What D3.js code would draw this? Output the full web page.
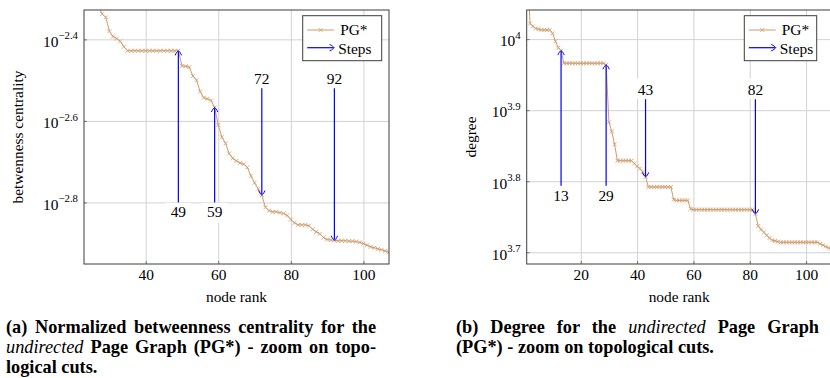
<!DOCTYPE html>
<html>
<head>
<meta charset="utf-8">
<script src="https://cdn.jsdelivr.net/npm/d3@7"></script>
<style>
body { margin: 0; background: #fff; }
#wrap { position: relative; width: 830px; height: 378px; overflow: hidden; }
#wrap svg { position: absolute; left: 0; top: 0; }
.cap { position: absolute; font-family: 'Liberation Serif', 'Times New Roman', Times, 'DejaVu Serif', serif; font-weight: bold; font-size: 18.3px; line-height: 20px; color: #000; }
.cap div { white-space: nowrap; }
.cap .j { text-align: justify; text-align-last: justify; }
.cap i { font-weight: normal; }
</style>
</head>
<body>
<div id="wrap">
  <div class="cap" style="left:6px; top:317px; width:370px;">
    <div class="j">(a) Normalized betweenness centrality for the</div>
    <div class="j"><i>undirected</i> Page Graph (PG*) - zoom on topo-</div>
    <div>logical cuts.</div>
  </div>
  <div class="cap" style="left:456px; top:317px; width:363px;">
    <div class="j">(b) Degree for the <i>undirected</i> Page Graph</div>
    <div>(PG*) - zoom on topological cuts.</div>
  </div>
</div>
<script>
// (a) betweenness, log10 exponent per node rank, first rank = 26
var btwFirstRank = 26;
var btwExp = [
	-2.29, -2.32, -2.338, -2.346, -2.38, -2.393, -2.398, -2.405, -2.418, -2.428,
	-2.428, -2.428, -2.428, -2.428, -2.428, -2.428, -2.428, -2.428, -2.428, -2.428,
	-2.428, -2.428, -2.428, -2.428, -2.465, -2.466, -2.468, -2.49, -2.50, -2.528,
	-2.543, -2.546, -2.55, -2.567, -2.61, -2.64, -2.655, -2.68, -2.692, -2.698,
	-2.703, -2.706, -2.714, -2.735, -2.752, -2.766, -2.782, -2.812, -2.82, -2.823,
	-2.823, -2.825, -2.827, -2.832, -2.842, -2.85, -2.855, -2.855, -2.855, -2.857,
	-2.866, -2.872, -2.877, -2.886, -2.891, -2.892, -2.893, -2.894, -2.894, -2.894,
	-2.895, -2.895, -2.896, -2.898, -2.901, -2.905, -2.909, -2.911, -2.914, -2.916,
	-2.919, -2.922
];
var btwSteps = [49, 59, 72, 92];
var btwStepFrom = [-2.8, -2.8, -2.52, -2.52];
var btwStepSide = ['below', 'below', 'above', 'above'];
var btwXTicks = [40, 60, 80, 100];
var btwYTicks = [-2.4, -2.6, -2.8];
var btwYTickLabels = ['\u22122.4', '\u22122.6', '\u22122.8'];

// (b) degree, log10 exponent per node rank, first rank = 1
var degFirstRank = 1;
var degExp = [
	4.10, 4.022, 4.018, 4.015, 4.014, 4.013, 4.013, 4.013, 4.013, 4.008,
	3.997, 3.988, 3.984, 3.966, 3.966, 3.966, 3.966, 3.966, 3.966, 3.966,
	3.966, 3.966, 3.966, 3.966, 3.966, 3.966, 3.966, 3.966, 3.964, 3.883,
	3.870, 3.852, 3.829, 3.829, 3.829, 3.829, 3.829, 3.829, 3.825, 3.821,
	3.818, 3.813, 3.806, 3.792, 3.792, 3.792, 3.792, 3.792, 3.792, 3.792,
	3.792, 3.792, 3.774, 3.773, 3.773, 3.773, 3.773, 3.773, 3.761, 3.760,
	3.760, 3.760, 3.760, 3.760, 3.760, 3.760, 3.760, 3.760, 3.760, 3.760,
	3.760, 3.760, 3.760, 3.760, 3.760, 3.760, 3.760, 3.760, 3.760, 3.760,
	3.760, 3.754, 3.737, 3.732, 3.728, 3.724, 3.720, 3.717, 3.716, 3.715,
	3.714, 3.714, 3.714, 3.714, 3.714, 3.714, 3.714, 3.714, 3.714, 3.714,
	3.714, 3.714, 3.714, 3.714, 3.712, 3.710, 3.708, 3.706, 3.705
];
var degSteps = [13, 29, 43, 82];
var degStepFrom = [3.7935, 3.7935, 3.9155, 3.9155];
var degStepSide = ['below', 'below', 'above', 'above'];
var degXTicks = [20, 40, 60, 80, 100];
var degYTicks = [4, 3.9, 3.8, 3.7];
var degYTickLabels = ['4', '3.9', '3.8', '3.7'];

var seriesName = 'PG*';
var stepsName = 'Steps';
var lineColor = '#cf9b69';
var stepColor = '#0000ff';
var font = "'Liberation Serif', 'Times New Roman', Times, 'DejaVu Serif', serif";

var svg = d3.select('#wrap').insert('svg', ':first-child')
	.attr('width', 830).attr('height', 378)
	.style('font-family', font);

function arrowHead(g, px, py, angle){
	// pgf "to" style tip, drawn pointing up, then rotated
	g.append('path')
	.attr('d', 'M-3.2,4.6 C-2.4,2.2 -0.8,0.8 0,0 C0.8,0.8 2.4,2.2 3.2,4.6')
	.attr('fill', 'none')
	.attr('stroke', stepColor)
	.attr('stroke-width', 1)
	.attr('transform', 'translate(' + [px, py] + ') rotate(' + angle + ')');
}

function drawChart(cfg){
	var x = d3.scaleLinear().domain(cfg.xDomain).range([cfg.left, cfg.right]);
	var y = d3.scaleLinear().domain(cfg.yDomain).range([cfg.bottom, cfg.top]);
	var H = cfg.bottom - cfg.top;
	var W = cfg.right - cfg.left;

	var data = cfg.values.map(function(v, i){
		return {rank: cfg.firstRank + i, v: v};
	});
	var valueAt = function(r){ return cfg.values[r - cfg.firstRank]; };

	var g = svg.append('g');

	// grid
	g.append('g')
	.attr('transform', 'translate(0,' + cfg.bottom + ')')
	.call(d3.axisBottom(x).tickValues(cfg.xTicks).tickSize(-H).tickFormat(''))
	.call(function(a){
		a.select('.domain').remove();
		a.selectAll('line').attr('stroke', '#d2d2d2');
	});
	g.append('g')
	.attr('transform', 'translate(' + cfg.left + ',0)')
	.call(d3.axisLeft(y).tickValues(cfg.yTicks).tickSize(-W).tickFormat(''))
	.call(function(a){
		a.select('.domain').remove();
		a.selectAll('line').attr('stroke', '#d2d2d2');
	});

	// x tick labels
	var xa = g.append('g')
	.attr('transform', 'translate(0,' + cfg.bottom + ')')
	.call(d3.axisBottom(x).tickValues(cfg.xTicks).tickSize(3).tickFormat(d3.format('d')));
	xa.select('.domain').remove();
	xa.selectAll('line').attr('stroke', '#777').attr('y2', -3);
	xa.selectAll('text')
	.attr('y', 16).attr('dy', null)
	.attr('font-family', font).attr('font-size', 15.4).attr('fill', '#000');

	// y tick labels: 10 with superscript exponent
	var ya = g.append('g')
	.attr('transform', 'translate(' + cfg.left + ',0)')
	.call(d3.axisLeft(y).tickValues(cfg.yTicks).tickSize(3).tickFormat(''));
	ya.select('.domain').remove();
	ya.selectAll('line').attr('stroke', '#777').attr('x2', 3);
	ya.selectAll('.tick').each(function(d, i){
		var t = d3.select(this).append('text')
		.attr('x', -6).attr('y', 6.8)
		.attr('text-anchor', 'end')
		.attr('font-family', font).attr('font-size', 15.4).attr('fill', '#000');
		t.append('tspan').text('10');
		t.append('tspan').attr('dy', -7.5).attr('font-size', 10.8).text(cfg.yTickLabels[i]);
	});

	// clip + series
	var clipId = 'clip' + cfg.id;
	g.append('clipPath').attr('id', clipId)
	.append('rect').attr('x', cfg.left).attr('y', cfg.top).attr('width', W).attr('height', H);

	var plot = g.append('g').attr('clip-path', 'url(#' + clipId + ')');
	plot.append('path')
	.datum(data)
	.attr('d', d3.line().x(function(d){ return x(d.rank); }).y(function(d){ return y(d.v); }))
	.attr('fill', 'none')
	.attr('stroke', lineColor)
	.attr('stroke-width', 1);
	plot.selectAll('path.mk')
	.data(data)
	.enter().append('path')
	.attr('class', 'mk')
	.attr('d', 'M-2,-2 L2,2 M-2,2 L2,-2')
	.attr('transform', function(d){ return 'translate(' + [x(d.rank), y(d.v)] + ')'; })
	.attr('stroke', lineColor)
	.attr('stroke-width', 0.8);

	// frame
	g.append('rect')
	.attr('x', cfg.left).attr('y', cfg.top).attr('width', W).attr('height', H)
	.attr('fill', 'none').attr('stroke', '#3c3c3c').attr('stroke-width', 1);

	// step arrows
	cfg.steps.forEach(function(r, i){
		var px = x(r);
		var y0 = y(cfg.stepFrom[i]);
		var y1 = y(valueAt(r));
		var up = y1 < y0;
		g.append('line')
		.attr('x1', px).attr('x2', px)
		.attr('y1', y0).attr('y2', y1 + (up ? 0.8 : -0.8))
		.attr('stroke', stepColor).attr('stroke-width', 1.2);
		arrowHead(g, px, y1, up ? 0 : 180);

		var below = cfg.stepSide[i] == 'below';
		var lb = g.append('g');
		lb.append('rect')
		.attr('x', px - 13).attr('width', 26)
		.attr('y', below ? y0 + 0.5 : y0 - 20.5).attr('height', 20)
		.attr('fill', '#fff');
		lb.append('text')
		.attr('x', px)
		.attr('y', below ? y0 + 15 : y0 - 4)
		.attr('text-anchor', 'middle')
		.attr('font-family', font).attr('font-size', 15.4)
		.text(r);
	});

	// axis labels
	g.append('text')
	.attr('x', (cfg.left + Math.min(cfg.right, cfg.left + 305)) / 2).attr('y', 302)
	.attr('text-anchor', 'middle')
	.attr('font-family', font).attr('font-size', 15.4)
	.text('node rank');
	g.append('text')
	.attr('transform', 'translate(' + [cfg.yLabelX, (cfg.top + cfg.bottom) / 2] + ') rotate(-90)')
	.attr('text-anchor', 'middle')
	.attr('font-family', font).attr('font-size', 15.4)
	.text(cfg.yLabel);

	// legend
	var lg = g.append('g').attr('transform', 'translate(' + [cfg.legend.x, cfg.legend.y] + ')');
	lg.append('rect')
	.attr('width', cfg.legend.w).attr('height', 45)
	.attr('fill', '#fff').attr('stroke', '#3c3c3c').attr('stroke-width', 1);
	lg.append('line')
	.attr('x1', 4.5).attr('x2', 31.5).attr('y1', 14.3).attr('y2', 14.3)
	.attr('stroke', lineColor).attr('stroke-width', 1);
	lg.append('path')
	.attr('d', 'M-2,-2 L2,2 M-2,2 L2,-2')
	.attr('transform', 'translate(18,14.3)')
	.attr('stroke', lineColor).attr('stroke-width', 0.8);
	lg.append('line')
	.attr('x1', 4.5).attr('x2', 31).attr('y1', 32).attr('y2', 32)
	.attr('stroke', stepColor).attr('stroke-width', 1.2);
	arrowHead(lg, 31.5, 32, 90);
	lg.append('text')
	.attr('x', 37.5).attr('y', 19.5)
	.attr('font-family', font).attr('font-size', 15.4)
	.text(seriesName);
	lg.append('text')
	.attr('x', 35.5).attr('y', 38)
	.attr('font-family', font).attr('font-size', 15.4)
	.text(stepsName);
}

drawChart({
	id: 'a',
	left: 84, right: 389, top: 10, bottom: 264,
	xDomain: [23, 107.05], yDomain: [-2.951, -2.328],
	firstRank: btwFirstRank, values: btwExp,
	steps: btwSteps, stepFrom: btwStepFrom, stepSide: btwStepSide,
	xTicks: btwXTicks, yTicks: btwYTicks, yTickLabels: btwYTickLabels,
	yLabel: 'betwenness centrality', yLabelX: 22.5,
	legend: {x: 302.7, y: 15.7, w: 79}
});

drawChart({
	id: 'b',
	left: 526.7, right: 832, top: 10, bottom: 264,
	xDomain: [0.8, 109.2], yDomain: [3.6835, 4.041],
	firstRank: degFirstRank, values: degExp,
	steps: degSteps, stepFrom: degStepFrom, stepSide: degStepSide,
	xTicks: degXTicks, yTicks: degYTicks, yTickLabels: degYTickLabels,
	yLabel: 'degree', yLabelX: 475.5,
	legend: {x: 744.3, y: 15.7, w: 72.4}
});
</script>
</body>
</html>
